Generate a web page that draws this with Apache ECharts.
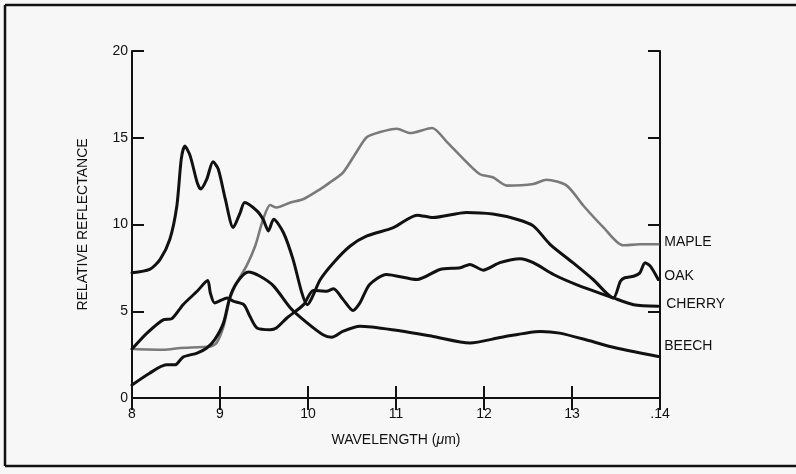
<!DOCTYPE html>
<html>
<head>
<meta charset="utf-8">
<script src="https://cdn.jsdelivr.net/npm/echarts@6/dist/echarts.min.js"></script>
<style>
  html, body { margin: 0; padding: 0; background: #f7f7f7; }
  #chart { width: 796px; height: 474px; }
</style>
</head>
<body>
<div id="chart"></div>
<script>
// Infrared reflectance spectra of tree leaves, [wavelength (µm), relative reflectance]
const maple = [
  [8.0, 2.82], [8.36, 2.78], [8.55, 2.88], [8.89, 2.97], [8.96, 3.17], [9.04, 4.13],
  [9.11, 5.67], [9.19, 6.64], [9.30, 7.6], [9.40, 8.76], [9.49, 10.3], [9.57, 11.12],
  [9.64, 10.98], [9.80, 11.27], [9.95, 11.47], [10.14, 12.04], [10.25, 12.43], [10.4, 13.01],
  [10.55, 14.17], [10.67, 15.04], [10.82, 15.33], [11.01, 15.52], [11.16, 15.27], [11.41, 15.56],
  [11.58, 14.75], [11.73, 13.97], [11.95, 12.91], [12.1, 12.72], [12.26, 12.24], [12.56, 12.33],
  [12.71, 12.58], [12.94, 12.24], [13.13, 11.08], [13.36, 9.82], [13.58, 8.8], [13.77, 8.86],
  [13.98, 8.86]
];
const oak = [
  [8.0, 7.22], [8.2, 7.41], [8.32, 7.99], [8.43, 9.15], [8.51, 11.08], [8.56, 13.78],
  [8.60, 14.52], [8.66, 13.97], [8.74, 12.43], [8.78, 12.04], [8.85, 12.62], [8.92, 13.62],
  [8.98, 13.2], [9.06, 11.47], [9.15, 9.82], [9.23, 10.69], [9.28, 11.27], [9.42, 10.79],
  [9.49, 10.3], [9.55, 9.63], [9.61, 10.3], [9.72, 9.54], [9.83, 7.99], [9.93, 6.06],
  [9.99, 5.38], [10.14, 6.83], [10.29, 7.8], [10.48, 8.76], [10.67, 9.34], [10.97, 9.82],
  [11.24, 10.54], [11.42, 10.4], [11.80, 10.69], [12.1, 10.6], [12.37, 10.3], [12.56, 9.92],
  [12.75, 8.86], [13.01, 7.8], [13.24, 6.83], [13.47, 5.77], [13.55, 6.73], [13.6, 6.93],
  [13.70, 7.02], [13.77, 7.2], [13.83, 7.8], [13.89, 7.6], [13.98, 6.83]
];
const cherry = [
  [8.0, 2.82], [8.17, 3.74], [8.36, 4.52], [8.45, 4.57], [8.58, 5.38], [8.74, 6.15],
  [8.86, 6.77], [8.89, 6.06], [8.94, 5.48], [9.08, 5.77], [9.15, 5.58], [9.27, 5.38],
  [9.34, 4.71], [9.42, 4.04], [9.57, 3.94], [9.64, 4.04], [9.76, 4.61], [9.95, 5.38],
  [10.06, 6.2], [10.21, 6.15], [10.29, 6.3], [10.4, 5.67], [10.51, 5.04], [10.59, 5.48],
  [10.7, 6.54], [10.89, 7.12], [11.24, 6.83], [11.5, 7.41], [11.73, 7.51], [11.84, 7.7],
  [11.99, 7.37], [12.18, 7.8], [12.41, 8.03], [12.56, 7.8], [12.79, 7.12], [13.05, 6.54],
  [13.47, 5.77], [13.70, 5.38], [13.98, 5.29]
];
const beech = [
  [8.0, 0.75], [8.2, 1.43], [8.39, 1.91], [8.49, 1.91], [8.58, 2.36], [8.74, 2.59],
  [8.85, 2.88], [8.94, 3.36], [9.04, 4.33], [9.11, 5.77], [9.19, 6.64], [9.32, 7.26],
  [9.45, 7.03], [9.61, 6.45], [9.80, 5.19], [9.99, 4.33], [10.17, 3.65], [10.27, 3.5],
  [10.4, 3.85], [10.59, 4.13], [11.0, 3.9], [11.42, 3.55], [11.84, 3.17], [12.2, 3.5],
  [12.64, 3.84], [12.86, 3.74], [13.2, 3.3], [13.43, 2.97], [13.98, 2.39]
];

const seriesNames = ['MAPLE', 'OAK', 'CHERRY', 'BEECH'];
const xTicks = [8, 9, 10, 11, 12, 13, 14];
const xTickText = ['8', '9', '10', '11', '12', '13', '.14'];
const yTicks = [0, 5, 10, 15, 20];

const FONT = '"Liberation Sans", Arial, Helvetica, sans-serif';
const chart = echarts.init(document.getElementById('chart'), null, { renderer: 'canvas' });

const axisLine = { show: true, lineStyle: { color: '#111', width: 2 } };
const tick = { show: true, inside: true, length: 12, lineStyle: { color: '#111', width: 2 } };

function lineSeries(name, data, color, width, labelOffset) {
  return {
    name: name,
    type: 'line',
    data: data,
    smooth: 0.25,
    symbol: 'none',
    lineStyle: { color: color, width: width, cap: 'round', join: 'round' },
    endLabel: {
      show: true,
      formatter: name,
      color: '#111',
      fontFamily: FONT,
      fontSize: 14,
      distance: 6,
      offset: labelOffset
    },
    animation: false
  };
}

chart.setOption({
  backgroundColor: '#f7f7f7',
  animation: false,
  grid: { left: 132, right: 136, top: 51, bottom: 76, containLabel: false },
  xAxis: [
    {
      type: 'value', min: 8, max: 14, interval: 1,
      name: 'WAVELENGTH ({mu|μ}m)', nameLocation: 'middle', nameGap: 35,
      nameTextStyle: {
        color: '#111', fontFamily: FONT, fontSize: 14,
        rich: { mu: { color: '#111', fontFamily: FONT, fontSize: 14, fontStyle: 'italic' } }
      },
      axisLine: axisLine, axisTick: tick, splitLine: { show: false },
      axisLabel: {
        color: '#111', fontFamily: FONT, fontSize: 14, margin: 9,
        formatter: v => xTickText[xTicks.indexOf(v)]
      }
    },
    {
      type: 'value', min: 8, max: 14, interval: 1, position: 'top',
      axisLine: axisLine, axisTick: tick, splitLine: { show: false },
      axisLabel: { show: false }
    }
  ],
  yAxis: [
    {
      type: 'value', min: 0, max: 20, interval: 5,
      name: 'RELATIVE REFLECTANCE', nameLocation: 'middle', nameGap: 42, nameRotate: 90,
      nameTextStyle: { color: '#111', fontFamily: FONT, fontSize: 14 },
      axisLine: axisLine, axisTick: tick, splitLine: { show: false },
      axisLabel: {
        color: '#111', fontFamily: FONT, fontSize: 14, margin: 4,
        formatter: v => (yTicks.indexOf(v) >= 0 ? String(v) : '')
      }
    },
    {
      type: 'value', min: 0, max: 20, interval: 5, position: 'right',
      axisLine: axisLine, axisTick: tick, splitLine: { show: false },
      axisLabel: { show: false }
    }
  ],
  series: [
    lineSeries(seriesNames[0], maple, '#7a7a7a', 2.6, [0, -2]),
    lineSeries(seriesNames[1], oak, '#111', 3, [0, -3]),
    lineSeries(seriesNames[2], cherry, '#111', 3, [2, -2]),
    lineSeries(seriesNames[3], beech, '#111', 3, [0, -10])
  ],
  graphic: [
    { type: 'line', shape: { x1: 5, y1: 5, x2: 796, y2: 5 }, style: { stroke: '#111', lineWidth: 2.5 } },
    { type: 'line', shape: { x1: 5, y1: 466, x2: 796, y2: 466 }, style: { stroke: '#111', lineWidth: 2.5 } },
    { type: 'line', shape: { x1: 5, y1: 5, x2: 5, y2: 466 }, style: { stroke: '#111', lineWidth: 2.5 } }
  ]
});
</script>
</body>
</html>
